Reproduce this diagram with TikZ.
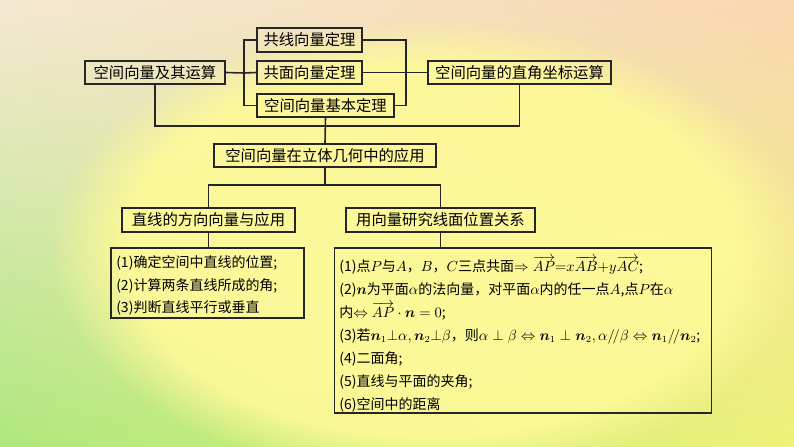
\documentclass[tikz,border=0pt]{standalone}
\usepackage{amsmath}
\usepackage{fontspec}
\setmainfont{Noto Sans CJK SC}
\usetikzlibrary{fadings,shadings}
\definecolor{cul}{RGB}{245,232,210}
\definecolor{cur}{RGB}{248,215,175}
\definecolor{cll}{RGB}{175,232,125}
\definecolor{clr}{RGB}{238,242,120}
\begin{document}
\begin{tikzpicture}[x=0.75pt,y=-0.75pt,
  box/.style={draw=black!85,line width=1.2pt,inner sep=0pt,font=\fontsize{11.5}{13}\selectfont},
  ln/.style={draw=black!85,line width=1.2pt},
  txt/.style={anchor=north west,align=left,inner sep=0pt,font=\fontsize{10.5}{17.2}\selectfont}]
\useasboundingbox (0,0) rectangle (794,447);
\begin{scope}
\clip (0,0) rectangle (794,447);
\shade[upper left=cul,upper right=cur,lower left=cll,lower right=clr] (0,0) rectangle (794,447);
\fill[yellow!40!white,path fading=circle with fuzzy edge 20 percent,opacity=0.9] (430,250) ellipse (380 and 230);
\end{scope}
% top row boxes
\node[box,minimum width=140*0.75pt,minimum height=23*0.75pt] (a) at (155,72.5) {空间向量及其运算};
\node[box,minimum width=105*0.75pt,minimum height=24*0.75pt] (b1) at (309.5,40) {共线向量定理};
\node[box,minimum width=105*0.75pt,minimum height=23*0.75pt] (b2) at (309.5,72.5) {共面向量定理};
\node[box,minimum width=137*0.75pt,minimum height=23*0.75pt] (b3) at (325.5,105.5) {空间向量基本定理};
\node[box,minimum width=183*0.75pt,minimum height=23*0.75pt] (c) at (519.5,72.5) {空间向量的直角坐标运算};
\node[box,minimum width=222*0.75pt,minimum height=23*0.75pt] (d) at (325,155.5) {空间向量在立体几何中的应用};
\node[box,minimum width=173*0.75pt,minimum height=24*0.75pt] (e) at (208.5,220) {直线的方向向量与应用};
\node[box,minimum width=189*0.75pt,minimum height=24*0.75pt] (f) at (440.5,220) {用向量研究线面位置关系};
\node[box,minimum width=193*0.75pt,minimum height=70*0.75pt] (g) at (207.5,283) {};
\node[box,minimum width=377*0.75pt,minimum height=165*0.75pt] (h) at (523,330.5) {};
% connectors
\coordinate (L) at (244,73); \coordinate (R) at (406,73);
\draw[ln] (a.east) -- (L);
\draw[ln] (b1.west) -| (L) |- (b3.west);
\draw[ln] (L) -- (b2.west);
\draw[ln] (b1.east) -| (R) |- (b3.east);
\draw[ln] (b2.east) -- (c.west);
\draw[ln] (a.south) |- (325,126) -| (c.south);
\draw[ln] (b3.south) -- (d.north);
\draw[ln] (d.south) -- (325,185) -| (e.north);
\draw[ln] (325,185) -| (f.north);
\draw[ln] (e.south) -- (e.south |- g.north);
\draw[ln] (f.south) -- (f.south |- h.north);
% texts
\node[txt] (gt) at (116,255) {(1)确定空间中直线的位置;\\(2)计算两条直线所成的角;\\(3)判断直线平行或垂直};
\node[txt] (ht) at (339,256) {(1)点$P$与$A$，$B$，$C$三点共面$\Rightarrow\overrightarrow{AP}{=}x\overrightarrow{AB}{+}y\overrightarrow{AC}$;\\
(2)$\boldsymbol n$为平面$\alpha$的法向量，对平面$\alpha$内的任一点$A$,点$P$在$\alpha$\\
内$\Leftrightarrow\overrightarrow{AP}\cdot\boldsymbol n=0$;\\
(3)若$\boldsymbol n_1{\perp}\alpha,\boldsymbol n_2{\perp}\beta$，则$\alpha\perp\beta\Leftrightarrow\boldsymbol n_1\perp\boldsymbol n_2,\alpha/\!/\beta\Leftrightarrow\boldsymbol n_1/\!/\boldsymbol n_2$;\\
(4)二面角;\\(5)直线与平面的夹角;\\(6)空间中的距离};
\end{tikzpicture}
\end{document}
